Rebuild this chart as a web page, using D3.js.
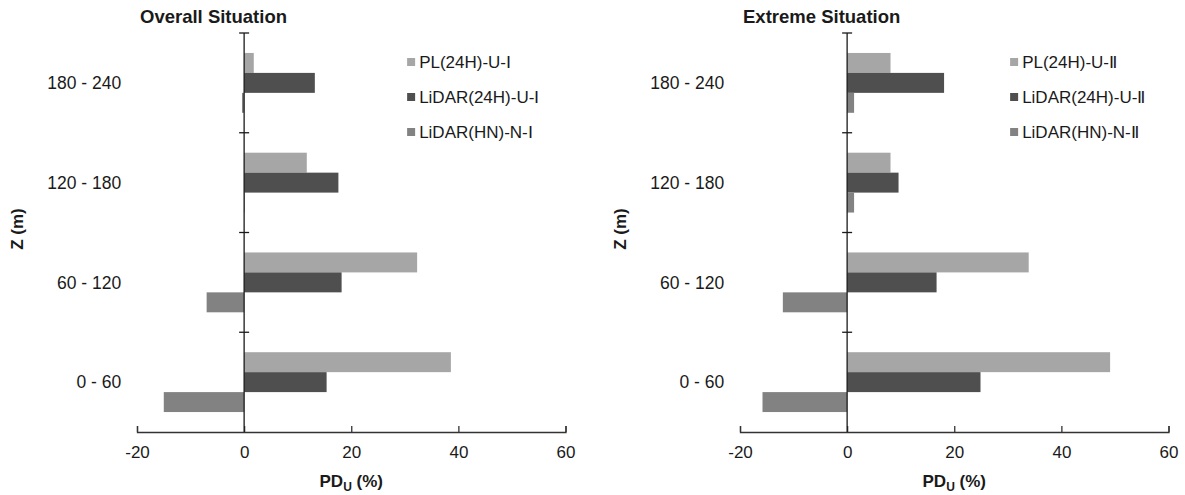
<!DOCTYPE html>
<html>
<head>
<meta charset="utf-8">
<script src="https://cdn.jsdelivr.net/npm/d3@7"></script>
<style>
  body { margin: 0; background: #fff; }
  text { font-family: "Liberation Sans", Arial, sans-serif; fill: #1a1a1a; }
</style>
</head>
<body>
<script>
// height bands, listed bottom to top
var categories = ["0 - 60", "60 - 120", "120 - 180", "180 - 240"];
var xTicks = [-20, 0, 20, 40, 60];

// Overall situation (%)
var overallNames = ["PL(24H)-U-\u2160", "LiDAR(24H)-U-\u2160", "LiDAR(HN)-N-\u2160"];
var overallPL = [38.6, 32.3, 11.7, 1.8];
var overallLidar24 = [15.4, 18.2, 17.6, 13.2];
var overallLidarHN = [-15.0, -7.0, 0.1, -0.4];

// Extreme situation (%)
var extremeNames = ["PL(24H)-U-\u2161", "LiDAR(24H)-U-\u2161", "LiDAR(HN)-N-\u2161"];
var extremePL = [49.1, 33.9, 8.1, 8.1];
var extremeLidar24 = [24.9, 16.7, 9.6, 18.1];
var extremeLidarHN = [-15.8, -12.0, 1.3, 1.3];

var colors = ["#a6a6a6", "#4f4f4f", "#828282"];

var width = 1185, height = 495;
var plotTop = 33, plotBottom = 432;

var svg = d3.select("body").append("svg")
    .attr("width", width)
    .attr("height", height);

function drawPanel(left, right, title, names, series) {
  var g = svg.append("g");

  var x = d3.scaleLinear().domain([-20, 60]).range([left, right]);
  var y = d3.scaleBand()
      .domain(categories.slice().reverse())
      .range([plotTop, plotBottom]);
  var bw = y.bandwidth();
  var sub = d3.scaleBand()
      .domain(d3.range(names.length))
      .range([bw * 0.2, bw * 0.8]);

  // bars
  series.forEach(function(vals, s) {
    g.selectAll(".bar" + s)
        .data(vals)
      .enter().append("rect")
        .attr("x", function(d) { return Math.min(x(0), x(d)); })
        .attr("width", function(d) { return Math.abs(x(d) - x(0)); })
        .attr("y", function(d, i) { return y(categories[i]) + sub(s); })
        .attr("height", sub.bandwidth())
        .attr("fill", colors[s]);
  });

  // x axis along the bottom, ticks pointing up
  var xAxis = g.append("g")
      .attr("transform", "translate(0," + plotBottom + ")")
      .call(d3.axisBottom(x).tickValues(xTicks)
        .tickFormat(function(d) { return String(d); })
        .tickSizeInner(-6).tickSizeOuter(-6).tickPadding(14));
  xAxis.select(".domain").attr("stroke", "#333").attr("stroke-width", 1.3);
  xAxis.selectAll(".tick line").attr("stroke", "#333").attr("stroke-width", 1.3);
  xAxis.selectAll("text")
      .style("font-size", "17px")
      .attr("fill", "#1a1a1a");

  // vertical category axis through zero
  g.append("line")
      .attr("x1", x(0)).attr("x2", x(0))
      .attr("y1", plotTop).attr("y2", plotBottom)
      .attr("stroke", "#1a1a1a")
      .attr("stroke-width", 1.3);
  var bounds = categories.map(function(c) { return y(c); });
  g.selectAll(".ytick")
      .data(bounds)
    .enter().append("line")
      .attr("x1", x(0) - 5).attr("x2", x(0) + 5)
      .attr("y1", function(d) { return d; })
      .attr("y2", function(d) { return d; })
      .attr("stroke", "#1a1a1a")
      .attr("stroke-width", 1.3);

  // category labels
  g.selectAll(".cat")
      .data(categories)
    .enter().append("text")
      .attr("x", x(0) - 123)
      .attr("y", function(d) { return y(d) + bw / 2; })
      .attr("dy", "0.35em")
      .attr("text-anchor", "end")
      .style("font-size", "17.5px")
      .text(function(d) { return d; });

  // title
  g.append("text")
      .attr("x", left + 3)
      .attr("y", 17)
      .attr("dy", "0.35em")
      .style("font-size", "18.5px")
      .style("font-weight", "bold")
      .text(title);

  // y title
  g.append("text")
      .attr("transform", "translate(" + (left - 120) + ",229) rotate(-90)")
      .attr("text-anchor", "middle")
      .attr("dy", "0.35em")
      .style("font-size", "17px")
      .style("font-weight", "bold")
      .text("Z (m)");

  // x title
  var xt = g.append("text")
      .attr("x", x(20))
      .attr("y", 481)
      .attr("dy", "0.35em")
      .attr("text-anchor", "middle")
      .style("font-size", "17px")
      .style("font-weight", "bold");
  xt.append("tspan").text("PD");
  xt.append("tspan").attr("dy", "4").style("font-size", "12px").text("U");
  xt.append("tspan").attr("dy", "-4").text(" (%)");

  // legend
  var lg = g.append("g")
      .attr("transform", "translate(" + (x(0) + 163) + ",62)");
  var items = lg.selectAll("g")
      .data(names)
    .enter().append("g")
      .attr("transform", function(d, i) { return "translate(0," + (i * 35) + ")"; });
  items.append("rect")
      .attr("x", 0).attr("y", -4)
      .attr("width", 8).attr("height", 8)
      .attr("fill", function(d, i) { return colors[i]; });
  items.append("text")
      .attr("x", 12)
      .attr("dy", "0.35em")
      .style("font-size", "17px")
      .text(function(d) { return d; });
}

drawPanel(137, 565.5, "Overall Situation", overallNames,
  [overallPL, overallLidar24, overallLidarHN]);
drawPanel(740, 1168.5, "Extreme Situation", extremeNames,
  [extremePL, extremeLidar24, extremeLidarHN]);
</script>
</body>
</html>
